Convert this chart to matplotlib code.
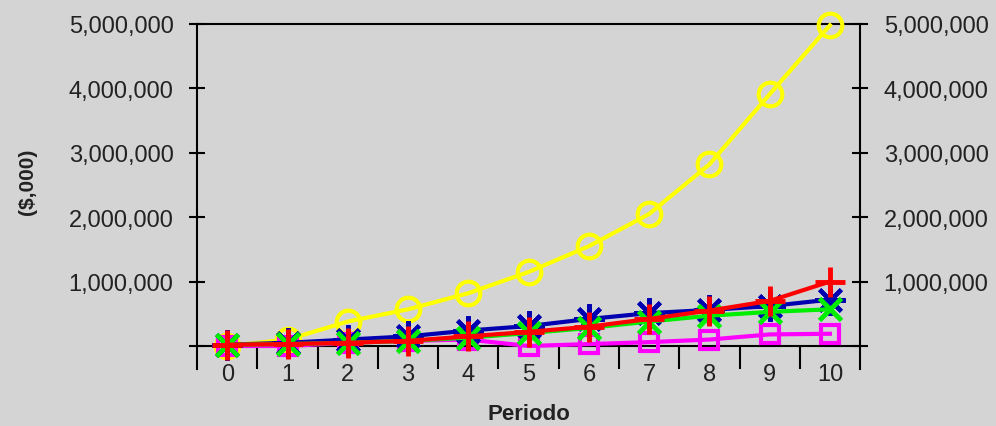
import matplotlib.pyplot as plt
from matplotlib.ticker import FuncFormatter

# Periods and series values ($,000)
periods = list(range(11))
yellow_vals = [0, 100000, 380000, 570000, 820000, 1150000, 1550000, 2050000, 2820000, 3910000, 4980000]
magenta_vals = [0, 0, 50000, 80000, 100000, 0, 30000, 60000, 100000, 180000, 190000]
blue_vals = [20000, 50000, 100000, 150000, 240000, 310000, 420000, 510000, 560000, 620000, 720000]
green_vals = [20000, 30000, 50000, 80000, 130000, 200000, 280000, 380000, 470000, 530000, 570000]
red_vals = [20000, 30000, 50000, 80000, 150000, 220000, 300000, 420000, 550000, 700000, 1000000]
y_ticks = [0, 1000000, 2000000, 3000000, 4000000, 5000000]

bg = '#d4d4d4'
plt.rcParams['font.family'] = ['Liberation Sans', 'DejaVu Sans']

fig = plt.figure(figsize=(9.96, 4.27), dpi=100, facecolor=bg)
ax = fig.add_axes([0.198, 0.1335, 0.6655, 0.808])
ax.set_facecolor(bg)

# Series (drawn bottom to top)
ax.plot(periods, yellow_vals, color='#ffff00', lw=3, marker='o', ms=17,
        mfc='none', mec='#ffff00', mew=3, zorder=3, clip_on=False)
ax.plot(periods, magenta_vals, color='#ff00ff', lw=3, marker='s', ms=13,
        mfc='none', mec='#ff00ff', mew=3, zorder=4, clip_on=False)
ax.plot(periods, blue_vals, color='#0000b0', lw=3, marker=(8, 2, 0), ms=22,
        mec='#0000b0', mew=3, zorder=5, clip_on=False)
ax.plot(periods, green_vals, color='#00ee00', lw=3, marker='x', ms=16,
        mec='#00ee00', mew=3.5, zorder=6, clip_on=False)
ax.plot(periods, red_vals, color='#ff0000', lw=3, marker='+', ms=21,
        mec='#ff0000', mew=3.5, zorder=7, clip_on=False)

ax.set_xlim(-0.5, 10.5)
ax.set_ylim(-357000, 5000000)

# Zero line and between-category ticks
ax.axhline(0, color='black', lw=1.5, zorder=2)
ax.vlines([p + 0.5 for p in periods[:-1]], -357000, 0, color='black', lw=1.5, zorder=2)

for side in ['left', 'right', 'top']:
    ax.spines[side].set_linewidth(1.5)
ax.spines['bottom'].set_visible(False)

ax.set_xticks(periods)
ax.tick_params(axis='x', length=0, pad=-4, labelsize=17, labelcolor='#222222')

ax.set_yticks(y_ticks)
ax.yaxis.set_major_formatter(FuncFormatter(lambda v, p: '' if v == 0 else f'{int(v):,}'))
ax.tick_params(axis='y', direction='inout', length=12, width=1.5, labelsize=17,
               labelcolor='#222222', pad=11, left=True, right=True,
               labelleft=True, labelright=True)

ax.set_xlabel('Periodo', fontsize=16, fontweight='bold', labelpad=13, color='#222222')
fig.text(0.028, 0.574, '($,000)', rotation=90, fontsize=15, fontweight='bold',
         ha='center', va='center', color='#222222')

fig.savefig('out.png', dpi=100, facecolor=bg)
